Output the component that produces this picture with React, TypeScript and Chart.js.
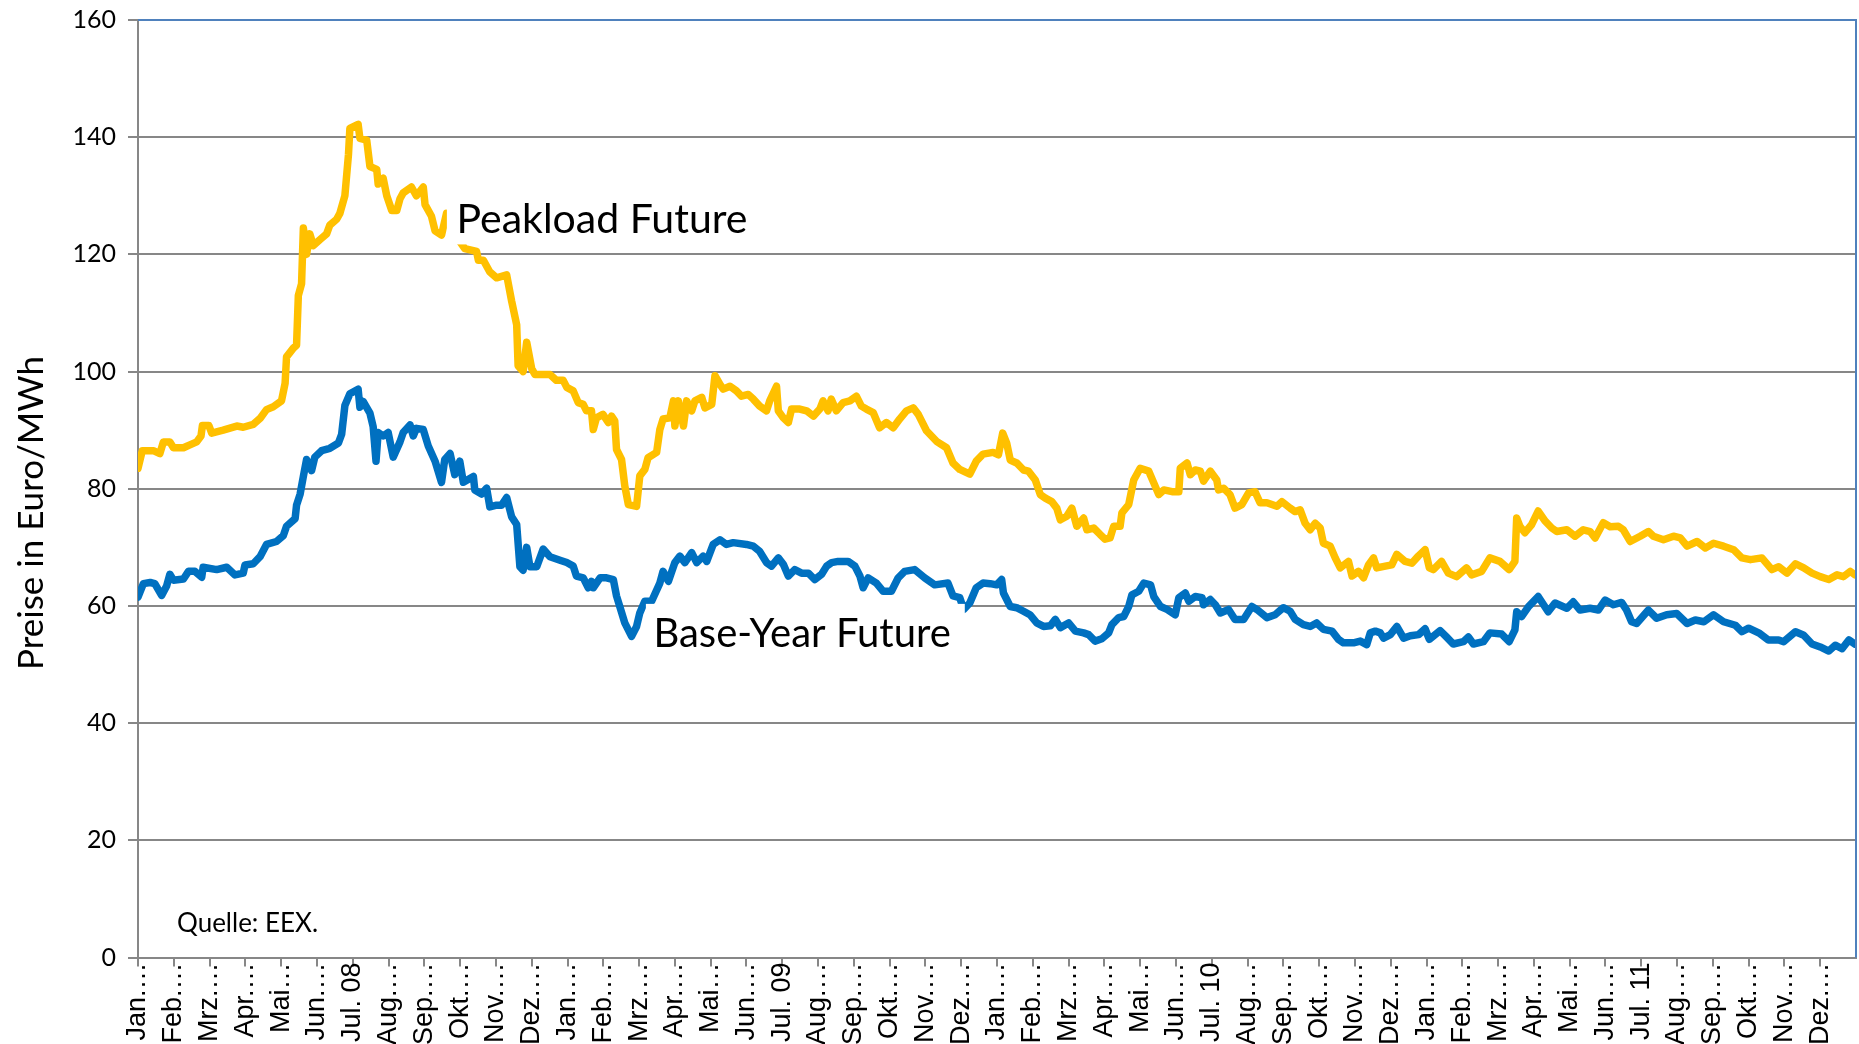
import React, { useEffect, useRef } from 'react';
import { Chart, registerables } from 'chart.js';

Chart.register(...registerables);

// ---- Data ---------------------------------------------------------------
// time axis: months since 1 Jan 2008 (0 = Jan 08, 48 = Jan 12)
const monthNames = ['Jan.', 'Feb.', 'Mrz.', 'Apr.', 'Mai', 'Jun.', 'Jul.', 'Aug.', 'Sep.', 'Okt.', 'Nov.', 'Dez.'];
const yearSuffixes = ['08', '09', '10', '11'];
const xTickLabels: string[] = yearSuffixes.flatMap((yy) =>
  monthNames.map((m) => (m === 'Jul.' ? `Jul. ${yy}` : `${m}…`))
);
const yTickValues = [0, 20, 40, 60, 80, 100, 120, 140, 160];

const peakMonths = [
  0, 0.12, 0.43, 0.61, 0.71, 0.89, 0.99, 1.27, 1.45, 1.64, 1.76, 1.8, 1.98, 2.06, 2.38, 2.76, 2.94, 3.22, 3.41, 3.59,
  3.78, 4.01, 4.11, 4.15, 4.34, 4.43, 4.48, 4.57, 4.62, 4.71, 4.8, 4.9, 5.08, 5.27, 5.36, 5.55, 5.64, 5.78, 5.88, 5.92,
  6.15, 6.2, 6.39, 6.48, 6.67, 6.71, 6.85, 6.95, 7.09, 7.23, 7.32, 7.41, 7.64, 7.78, 7.97, 8.02, 8.2, 8.3, 8.48, 8.62,
  8.9, 9.13, 9.46, 9.51, 9.65, 9.83, 10.02, 10.3, 10.44, 10.58, 10.62, 10.76, 10.86, 11.0, 11.09, 11.51, 11.69, 11.88,
  11.98, 12.16, 12.3, 12.44, 12.53, 12.67, 12.72, 12.81, 12.99, 13.14, 13.23, 13.32, 13.37, 13.51, 13.6, 13.7, 13.93,
  14.02, 14.16, 14.25, 14.49, 14.58, 14.67, 14.86, 14.96, 15.0, 15.1, 15.24, 15.33, 15.47, 15.56, 15.75, 15.84, 16.03,
  16.12, 16.26, 16.35, 16.54, 16.72, 16.86, 17.05, 17.19, 17.37, 17.56, 17.65, 17.84, 17.89, 18.03, 18.17, 18.26,
  18.49, 18.68, 18.87, 19.05, 19.14, 19.28, 19.37, 19.51, 19.7, 19.89, 20.07, 20.21, 20.35, 20.54, 20.72, 20.91, 21.1,
  21.28, 21.47, 21.66, 21.8, 22.03, 22.31, 22.59, 22.77, 22.96, 23.24, 23.42, 23.61, 23.89, 24.04, 24.16, 24.27, 24.37,
  24.55, 24.74, 24.88, 25.07, 25.21, 25.35, 25.53, 25.67, 25.77, 25.95, 26.09, 26.23, 26.42, 26.51, 26.7, 26.88, 27.02,
  27.16, 27.26, 27.44, 27.49, 27.68, 27.82, 28.0, 28.24, 28.38, 28.52, 28.66, 28.89, 29.08, 29.12, 29.31, 29.4, 29.54,
  29.68, 29.77, 29.96, 30.14, 30.19, 30.33, 30.51, 30.65, 30.84, 31.03, 31.21, 31.35, 31.54, 31.82, 31.96, 32.19, 32.33,
  32.47, 32.61, 32.75, 32.89, 33.03, 33.12, 33.31, 33.45, 33.59, 33.82, 33.92, 34.1, 34.24, 34.38, 34.52, 34.61, 34.85,
  35.03, 35.17, 35.4, 35.59, 35.77, 35.96, 36.08, 36.19, 36.42, 36.61, 36.84, 37.12, 37.26, 37.54, 37.77, 38.05, 38.31,
  38.47, 38.52, 38.61, 38.75, 38.94, 39.12, 39.31, 39.5, 39.64, 39.92, 40.15, 40.38, 40.57, 40.71, 40.94, 41.13, 41.36,
  41.5, 41.69, 41.97, 42.2, 42.34, 42.62, 42.9, 43.09, 43.28, 43.56, 43.79, 44.02, 44.3, 44.58, 44.81, 45.05, 45.37,
  45.65, 45.84, 46.07, 46.31, 46.54, 46.77, 47.0, 47.24, 47.47, 47.65, 47.84, 47.97,
];
const peakValues = [
  83.5, 86.5, 86.5, 86.0, 88, 88, 87, 87, 87.5, 88, 89, 90.8, 90.8, 89.5, 90, 90.7, 90.5, 91, 92, 93.5,
  94, 95, 98, 102.5, 104, 104.5, 113, 115, 124.5, 120, 123.5, 121.5, 122.5, 123.5, 125, 126, 127, 130, 137, 141.5,
  142.2, 139.8, 139.5, 135, 134.5, 132, 133, 130, 127.5, 127.5, 129.5, 130.5, 131.5, 130, 131.5, 128.5, 126.5, 124, 123.3, 127,
  123, 121, 120.5, 119, 119, 117, 116, 116.5, 112, 108, 101, 100, 105, 100.5, 99.5, 99.5, 98.5, 98.5,
  97.3, 96.7, 94.7, 94.4, 93.3, 93.3, 90.1, 92.1, 92.7, 91.3, 92.4, 91.6, 86.7, 85, 80.5, 77.3, 77,
  82.2, 83.3, 85.3, 86.2, 90.1, 91.9, 92.1, 95, 90.7, 95, 90.7, 95, 93.3, 95, 95.6, 93.8, 94.4,
  99.3, 97.8, 97, 97.5, 96.7, 95.8, 96.1, 95.3, 94.1, 93.3, 95, 97.5, 93.3, 92.1, 91.3, 93.6,
  93.6, 93.3, 92.4, 93.6, 95, 93.3, 95.3, 93.3, 94.7, 95, 95.8, 94.1, 93.6, 93, 90.4, 91.3, 90.4,
  91.9, 93.3, 93.8, 92.7, 89.9, 88.1, 87, 84.4, 83.3, 82.5, 84.7, 85.9, 86.2, 85.8, 89.5, 87.8, 84.9,
  84.4, 83.2, 83, 81.5, 79, 78.4, 77.8, 76.7, 74.7, 75.3, 76.7, 73.6, 75, 73, 73.3, 72.2, 71.4,
  71.6, 73.6, 73.6, 75.9, 77.3, 81.5, 83.5, 83, 81, 79, 79.8, 79.5, 79.5, 83.5, 84.4, 82.4, 83.2,
  83, 81.3, 83, 81.5, 79.8, 80.1, 79, 76.7, 77.3, 79.3, 79.5, 77.6, 77.6, 77, 77.8, 76.7, 76.1,
  76.4, 74.1, 73, 74.1, 73.3, 70.7, 70.2, 68.2, 66.5, 67.6, 65.1, 65.9, 64.8, 67, 68.2, 66.5, 66.8,
  67, 68.8, 67.6, 67.3, 68.5, 69.6, 66.5, 66.2, 67.6, 65.6, 65, 66.5, 65.3, 65.9, 68.2, 67.6, 66.2,
  67.6, 75, 73.6, 72.5, 73.9, 76.2, 74.5, 73.3, 72.7, 73, 71.9, 73, 72.7, 71.6, 74.2, 73.5, 73.6,
  73, 71, 71.9, 72.7, 71.9, 71.3, 71.9, 71.6, 70.2, 71, 69.9, 70.7, 70.2, 69.6, 68.2, 67.9, 68.2,
  66.2, 66.7, 65.6, 67.2, 66.5, 65.6, 65, 64.5, 65.3, 65, 65.9, 65.3,
];

const baseMonths = [
  0, 0.15, 0.34, 0.47, 0.66, 0.8, 0.89, 0.99, 1.27, 1.41, 1.59, 1.78, 1.82, 2.2, 2.48, 2.71, 2.94, 2.99, 3.22, 3.41,
  3.59, 3.87, 4.06, 4.15, 4.39, 4.43, 4.53, 4.62, 4.71, 4.85, 4.94, 5.13, 5.36, 5.6, 5.69, 5.78, 5.92, 6.15, 6.2, 6.29,
  6.48, 6.57, 6.65, 6.71, 6.85, 6.99, 7.13, 7.32, 7.41, 7.6, 7.69, 7.78, 7.97, 8.11, 8.3, 8.48, 8.57, 8.72, 8.85, 8.99,
  9.09, 9.37, 9.41, 9.6, 9.74, 9.83, 10.02, 10.16, 10.3, 10.44, 10.58, 10.67, 10.76, 10.86, 10.95, 11.14, 11.32, 11.51,
  11.79, 11.98, 12.16, 12.25, 12.44, 12.58, 12.67, 12.72, 12.91, 13.09, 13.28, 13.37, 13.47, 13.6, 13.79, 13.93, 14.02,
  14.16, 14.35, 14.58, 14.67, 14.82, 15.0, 15.14, 15.28, 15.47, 15.61, 15.79, 15.89, 16.07, 16.26, 16.44, 16.63, 17.0,
  17.19, 17.37, 17.56, 17.7, 17.89, 18.03, 18.17, 18.35, 18.54, 18.73, 18.91, 19.1, 19.24, 19.38, 19.56, 19.84, 20.03,
  20.17, 20.26, 20.4, 20.63, 20.82, 21.05, 21.24, 21.42, 21.7, 21.98, 22.26, 22.63, 22.77, 22.96, 23.07, 23.24, 23.42,
  23.61, 23.81, 23.99, 24.13, 24.18, 24.37, 24.55, 24.74, 24.92, 25.11, 25.3, 25.49, 25.63, 25.77, 26.0, 26.19, 26.42,
  26.56, 26.74, 26.93, 27.12, 27.21, 27.4, 27.54, 27.68, 27.77, 27.96, 28.1, 28.29, 28.38, 28.57, 28.75, 28.98, 29.08,
  29.26, 29.36, 29.54, 29.73, 29.77, 29.96, 30.1, 30.24, 30.47, 30.65, 30.89, 31.12, 31.26, 31.54, 31.77, 32.0, 32.19,
  32.33, 32.56, 32.75, 32.93, 33.12, 33.36, 33.54, 33.68, 33.96, 34.15, 34.33, 34.43, 34.57, 34.71, 34.8, 34.99, 35.17,
  35.36, 35.55, 35.78, 35.96, 36.08, 36.38, 36.56, 36.75, 37.03, 37.17, 37.31, 37.59, 37.77, 38.1, 38.31, 38.47, 38.52,
  38.66, 38.85, 39.12, 39.4, 39.59, 39.92, 40.1, 40.29, 40.57, 40.8, 40.99, 41.22, 41.45, 41.59, 41.73, 41.87, 42.2,
  42.43, 42.71, 42.99, 43.28, 43.51, 43.75, 44.02, 44.3, 44.63, 44.81, 45.0, 45.31, 45.55, 45.84, 45.98, 46.31, 46.54,
  46.77, 47.0, 47.24, 47.42, 47.61, 47.8, 47.97,
];
const baseValues = [
  61.5, 63.8, 64, 63.8, 61.8, 63.4, 65.4, 64.4, 64.6, 65.9, 65.9, 64.9, 66.6, 66.2, 66.6, 65.3, 65.6, 67, 67.2, 68.4,
  70.5, 71, 72, 73.6, 74.9, 77.2, 79.1, 82.1, 85, 83.1, 85.4, 86.5, 86.9, 87.8, 89.3, 94.2, 96.2, 97, 93.9, 94.9,
  92.9, 90.6, 84.7, 89.6, 89, 89.6, 85.4, 88, 89.6, 90.9, 89, 90.3, 90.1, 87.3, 84.7, 81.1, 85, 86, 82.4, 84.7,
  81.1, 82.1, 79.8, 79.1, 80.1, 76.9, 77.2, 77.2, 78.5, 75.2, 73.9, 66.7, 66.1, 70, 66.7, 66.7, 69.7, 68.4,
  67.8, 67.4, 66.8, 65.1, 64.8, 63.1, 64.2, 63.1, 64.8, 64.8, 64.5, 61.7, 59.7, 57.1, 54.8, 56.5, 58.8,
  60.8, 60.8, 63.9, 65.9, 64.2, 67.4, 68.5, 67.4, 69.1, 67.4, 68.5, 67.6, 70.5, 71.3, 70.5, 70.8, 70.5,
  70.2, 69.3, 67.4, 66.8, 68.2, 67.1, 65.1, 66.2, 65.6, 65.6, 64.5, 65.4, 66.8, 67.4, 67.6, 67.6, 66.8,
  65.1, 63.1, 64.8, 63.9, 62.5, 62.5, 64.8, 65.9, 66.2, 64.8, 63.6, 63.9, 61.7, 61.4, 59.4, 60.5, 63.1,
  63.9, 63.8, 63.6, 64.5, 62.2, 59.9, 59.7, 59.1, 58.5, 57.1, 56.5, 56.6, 57.7, 56.3, 57.1, 55.7, 55.4,
  55.1, 54, 54.4, 55.4, 56.8, 58, 58.2, 59.9, 61.9, 62.5, 63.9, 63.6, 61.6, 59.9, 59.4, 58.5, 61.4,
  62.2, 60.8, 61.6, 61.4, 60.2, 61.1, 60.2, 58.8, 59.4, 57.7, 57.7, 59.9, 59.4, 58, 58.5, 59.7, 59.1,
  57.7, 56.8, 56.5, 57.1, 56, 55.7, 54.3, 53.7, 53.7, 54, 53.4, 55.4, 55.7, 55.4, 54.5, 55.1, 56.5,
  54.5, 54.9, 55.1, 56.1, 54.3, 55.8, 54.7, 53.5, 53.9, 54.7, 53.5, 53.9, 55.4, 55.2, 53.9, 55.9, 59,
  58.2, 59.9, 61.6, 59, 60.5, 59.6, 60.7, 59.3, 59.6, 59.3, 61, 60.2, 60.6, 59.3, 57.3, 57, 59.3,
  57.9, 58.5, 58.7, 57, 57.6, 57.3, 58.5, 57.3, 56.7, 55.6, 56.2, 55.3, 54.2, 54.2, 53.9, 55.6, 55,
  53.5, 53, 52.3, 53.3, 52.7, 54.2, 53.5,
];

const seriesNames = ['Peakload Future', 'Base-Year Future'];
const yAxisTitle = 'Preise in Euro/MWh';
const sourceNote = 'Quelle: EEX.';

// ---- Chart --------------------------------------------------------------
const GRID = '#878787';

const overlayPlugin = {
  id: 'overlayText',
  afterDatasetsDraw(chart: any) {
    const { ctx, chartArea, scales } = chart;
    const x = scales.x;
    const y = scales.y;
    ctx.save();
    const boxes = [
      { text: seriesNames[0], size: 41, from: [8.63, 132.7], to: [17.15, 121.7], at: [8.9, 123.7] },
      { text: seriesNames[1], size: 40, from: [14.19, 60.35], to: [23.1, 49.0], at: [14.4, 53.0] },
    ];
    ctx.textBaseline = 'alphabetic';
    ctx.textAlign = 'left';
    for (const b of boxes) {
      const l = x.getPixelForValue(b.from[0]);
      const t = y.getPixelForValue(b.from[1]);
      const r = x.getPixelForValue(b.to[0]);
      const btm = y.getPixelForValue(b.to[1]);
      ctx.fillStyle = '#ffffff';
      ctx.fillRect(l, t, r - l, btm - t);
      ctx.fillStyle = '#000000';
      ctx.font = `${b.size}px Lato`;
      ctx.fillText(b.text, x.getPixelForValue(b.at[0]), y.getPixelForValue(b.at[1]));
    }
    // source note
    ctx.font = '26px Lato';
    ctx.fillText(sourceNote, x.getPixelForValue(1.09), y.getPixelForValue(4.4));

    // plot area border (top and right)
    ctx.strokeStyle = '#4F81BD';
    ctx.lineWidth = 2;
    ctx.beginPath();
    ctx.moveTo(chartArea.left, chartArea.top);
    ctx.lineTo(chartArea.right, chartArea.top);
    ctx.lineTo(chartArea.right, chartArea.bottom);
    ctx.stroke();

    // y axis title
    ctx.save();
    ctx.translate(32, 513);
    ctx.rotate(-Math.PI / 2);
    ctx.font = '35px Lato';
    ctx.textAlign = 'center';
    ctx.textBaseline = 'middle';
    ctx.fillStyle = '#000000';
    ctx.fillText(yAxisTitle, 0, 0);
    ctx.restore();
    ctx.restore();
  },
};

export default function App() {
  const canvasRef = useRef<HTMLCanvasElement | null>(null);

  useEffect(() => {
    document.body.style.margin = '0';
    const canvas = canvasRef.current;
    if (!canvas) return;
    const chart = new Chart(canvas, {
      type: 'line',
      data: {
        datasets: [
          {
            label: seriesNames[0],
            data: peakMonths.map((m, i) => ({ x: m, y: peakValues[i] })),
            borderColor: '#FFC000',
            backgroundColor: '#FFC000',
            borderWidth: 7.5,
            pointRadius: 0,
            tension: 0,
            borderJoinStyle: 'round',
            borderCapStyle: 'round',
          },
          {
            label: seriesNames[1],
            data: baseMonths.map((m, i) => ({ x: m, y: baseValues[i] })),
            borderColor: '#0070C0',
            backgroundColor: '#0070C0',
            borderWidth: 7.5,
            pointRadius: 0,
            tension: 0,
            borderJoinStyle: 'round',
            borderCapStyle: 'round',
          },
        ],
      },
      options: {
        animation: false,
        responsive: false,
        maintainAspectRatio: false,
        devicePixelRatio: 1,
        layout: { padding: { top: 20, right: 3, left: 0, bottom: 0 } },
        plugins: { legend: { display: false }, tooltip: { enabled: false } },
        scales: {
          x: {
            type: 'linear',
            min: 0,
            max: 48,
            afterBuildTicks: (scale: any) => {
              scale.ticks = xTickLabels.map((_, i) => ({ value: i }));
            },
            afterFit: (scale: any) => {
              scale.height = 86.5;
              scale.paddingLeft = 0;
              scale.paddingRight = 0;
            },
            ticks: {
              autoSkip: false,
              maxRotation: 90,
              minRotation: 90,
              padding: -4,
              color: '#000000',
              font: { family: 'Liberation Sans', size: 27 },
              callback: (v: any) => xTickLabels[Math.round(v)] ?? '',
            },
            grid: { display: true, drawOnChartArea: false, drawTicks: true, tickLength: 9, color: GRID, lineWidth: 2 },
            border: { display: true, color: GRID, width: 2 },
          },
          y: {
            type: 'linear',
            min: 0,
            max: 160,
            afterBuildTicks: (scale: any) => {
              scale.ticks = yTickValues.map((v) => ({ value: v }));
            },
            afterFit: (scale: any) => {
              scale.width = 138;
              scale.paddingTop = 0;
              scale.paddingBottom = 0;
            },
            ticks: {
              padding: 12,
              color: '#000000',
              font: { family: '"Liberation Sans Narrow", Lato', size: 25 },
            },
            grid: { color: GRID, lineWidth: 2, tickLength: 10, drawTicks: true },
            border: { display: true, color: GRID, width: 2 },
          },
        },
      },
      plugins: [overlayPlugin],
    } as any);
    return () => chart.destroy();
  }, []);

  return (
    <div style={{ position: 'fixed', left: 0, top: 0, width: 1859, height: 1044, background: '#ffffff' }}>
      <canvas ref={canvasRef} width={1859} height={1044} style={{ width: 1859, height: 1044, display: 'block' }} />
    </div>
  );
}
